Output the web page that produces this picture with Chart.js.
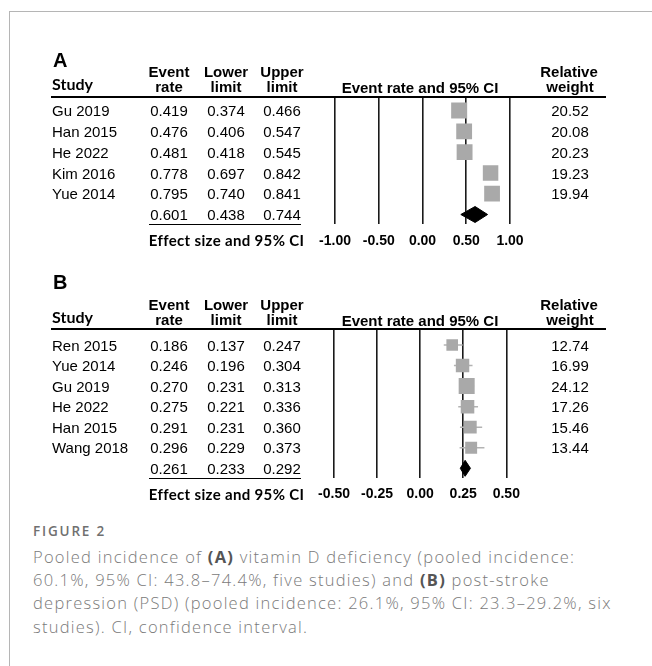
<!DOCTYPE html>
<html><head><meta charset="utf-8">
<script src="https://cdn.jsdelivr.net/npm/chart.js@4.4.1/dist/chart.umd.min.js"></script>
<style>
html,body{margin:0;padding:0;background:#fff;}
#page{position:relative;width:652px;height:666px;overflow:hidden;background:#fff;font-family:"Liberation Sans",Arial,sans-serif;color:#000;}
#frame{position:absolute;left:9px;top:11px;width:700px;height:700px;border-left:1px solid #b5b5b5;border-top:1px solid #b5b5b5;}
.t{position:absolute;left:0;top:0;white-space:nowrap;line-height:1;}
.cv{position:absolute;left:0;top:0;}
.hl{position:absolute;background:#000;}
.cap b{font-weight:700;color:#555;}
</style></head><body><div id="page"><div id="frame"></div>
<canvas id="cA" class="cv" width="652" height="520"></canvas>
<canvas id="cB" class="cv" width="652" height="520"></canvas>
</div>
<script>
// ---------- data ----------
const headers = ["Study", "Event rate", "Lower limit", "Upper limit", "Event rate and 95% CI", "Relative weight"];
const axisTitle = "Effect size and 95% CI";

const studiesA = ["Gu 2019", "Han 2015", "He 2022", "Kim 2016", "Yue 2014"];
const rateA   = [0.419, 0.476, 0.481, 0.778, 0.795];
const lowerA  = [0.374, 0.406, 0.418, 0.697, 0.740];
const upperA  = [0.466, 0.547, 0.545, 0.842, 0.841];
const weightA = [20.52, 20.08, 20.23, 19.23, 19.94];
const pooledA = [0.601, 0.438, 0.744]; // rate, lower, upper
const ticksA  = [-1.00, -0.50, 0.00, 0.50, 1.00];

const studiesB = ["Ren 2015", "Yue 2014", "Gu 2019", "He 2022", "Han 2015", "Wang 2018"];
const rateB   = [0.186, 0.246, 0.270, 0.275, 0.291, 0.296];
const lowerB  = [0.137, 0.196, 0.231, 0.221, 0.231, 0.229];
const upperB  = [0.247, 0.304, 0.313, 0.336, 0.360, 0.373];
const weightB = [12.74, 16.99, 24.12, 17.26, 15.46, 13.44];
const pooledB = [0.261, 0.233, 0.292];
const ticksB  = [-0.50, -0.25, 0.00, 0.25, 0.50];

const figLabel = "FIGURE 2";
const captionLines = [
  'Pooled incidence of <b>(A)</b> vitamin D deficiency (pooled incidence:',
  '60.1%, 95% CI: 43.8–74.4%, five studies) and <b>(B)</b> post-stroke',
  'depression (PSD) (pooled incidence: 26.1%, 95% CI: 23.3–29.2%, six',
  'studies). CI, confidence interval.'
];

// ---------- layout ----------
const page = document.getElementById('page');
const ARIAL = '"Liberation Sans", Arial, sans-serif';
const LATO = 'Lato, "Open Sans", sans-serif';
const OPEN = '"Open Sans", sans-serif';
const BASE = {arial: 0.8465, lato: 0.887, open: 0.888};

function put(html, x, base, o) {
  o = o || {};
  const fs = o.fs || 15;
  const d = document.createElement('div');
  d.className = 't' + (o.cls ? ' ' + o.cls : '');
  d.innerHTML = html;
  d.style.fontSize = fs + 'px';
  d.style.fontFamily = o.font || ARIAL;
  d.style.fontWeight = o.weight || (o.bold ? '700' : '400');
  if (o.color) d.style.color = o.color;
  d.style.top = (base - (o.asc || BASE.arial) * fs) + 'px';
  page.appendChild(d);
  if (o.width) {
    const w0 = d.getBoundingClientRect().width;
    const n = d.textContent.length;
    d.style.letterSpacing = ((o.width - w0) / n) + 'px';
  }
  if (o.spacing !== undefined) d.style.letterSpacing = o.spacing + 'px';
  const w = d.getBoundingClientRect().width;
  const align = o.align || 'left';
  d.style.left = (align === 'center' ? x - w / 2 : align === 'right' ? x - w : x) + 'px';
  return d;
}
function rule(x1, x2, y, h) {
  const d = document.createElement('div');
  d.className = 'hl';
  d.style.left = x1 + 'px'; d.style.width = (x2 - x1) + 'px';
  d.style.top = y + 'px'; d.style.height = h + 'px';
  page.appendChild(d);
}

function panel(P, label, studies, rate, lower, upper, weight, pooled, ticks, canvasId) {
  put(label, 53, P.letterBase, {fs: 20, bold: true});
  const h = headers;
  const l1 = P.head1, l2 = P.head2;
  put("Study", 52, P.studyBase, {fs: 16, font: LATO, bold: true, asc: BASE.lato, width: 41});
  [[h[1], 169], [h[2], 226], [h[3], 282]].forEach(([t, cx]) => {
    const parts = t.split(' ');
    put(parts[0], cx, l1, {fs: 15, bold: true, align: 'center'});
    put(parts[1], cx, l2, {fs: 15, bold: true, align: 'center'});
  });
  const rw = h[5].split(' ');
  put(rw[0], 569, l1, {fs: 15, bold: true, align: 'center'});
  put(rw[1], 570, l2, {fs: 15, bold: true, align: 'center'});
  put(h[4], 420, P.ciBase, {fs: 15, bold: true, align: 'center'});
  rule(50.7, 606, P.top - 1, 2);
  const rowY = i => P.row0 + P.step * i;
  const cb = 0.358 * 15;
  studies.forEach((s, i) => {
    const b = rowY(i) + cb;
    put(s, 52, b, {fs: 15});
    put(rate[i].toFixed(3), 169, b, {fs: 15, align: 'center'});
    put(lower[i].toFixed(3), 226, b, {fs: 15, align: 'center'});
    put(upper[i].toFixed(3), 282, b, {fs: 15, align: 'center'});
    put(weight[i].toFixed(2), 570, b, {fs: 15, align: 'center'});
  });
  const pb = rowY(studies.length) + cb;
  pooled.forEach((v, j) => put(v.toFixed(3), [169, 226, 282][j], pb, {fs: 15, align: 'center'}));
  rule(149.3, 300.7, P.bottom - 0.8, 1.5);
  put(axisTitle, 304.3, P.tickCenter + 0.358 * 15, {fs: 15, font: LATO, bold: true, asc: BASE.lato, width: 155, align: 'right'});

  const n = studies.length;
  const maxW = Math.max(...weight);
  const ds = [];
  ds.push({
    data: rate.map((v, i) => ({x: v, y: i})),
    pointStyle: 'rect',
    pointRadius: ctx => P.maxSide * Math.sqrt(weight[ctx.dataIndex] / maxW) / Math.SQRT2,
    backgroundColor: '#a9a9a9', borderWidth: 0, order: 0
  });
  for (let i = 0; i < n; i++) {
    ds.push({data: [{x: lower[i], y: i}, {x: upper[i], y: i}], showLine: true, pointRadius: 0,
      borderColor: '#b3b3b3', borderWidth: 1.5, order: 2});
  }
  const hh = P.diaHalf / P.step;
  ds.push({
    data: [{x: pooled[1], y: n}, {x: pooled[0], y: n - hh}, {x: pooled[2], y: n}, {x: pooled[0], y: n + hh}, {x: pooled[1], y: n}],
    showLine: true, pointRadius: 0, borderColor: '#000', borderWidth: 1, backgroundColor: '#000',
    fill: 'shape', tension: 0, order: 1
  });
  new Chart(document.getElementById(canvasId), {
    type: 'scatter',
    data: {datasets: ds},
    options: {
      responsive: false, animation: false, events: [],
      layout: {padding: {left: P.left, right: 652 - P.right, top: P.top, bottom: 0}},
      plugins: {legend: {display: false}, tooltip: {enabled: false}},
      scales: {
        x: {
          type: 'linear', min: ticks[0], max: ticks[ticks.length - 1],
          afterBuildTicks: s => { s.ticks = ticks.map(v => ({value: v})); },
          afterFit: s => { s.height = 520 - P.bottom; },
          grid: {color: '#1a1a1a', lineWidth: 1.6, drawTicks: false, drawOnChartArea: true},
          border: {display: false},
          ticks: {padding: P.tickCenter - P.bottom - 8.4, color: '#000', autoSkip: false, maxRotation: 0,
            font: {family: ARIAL, size: 14, weight: 'bold'}, callback: v => Number(v).toFixed(2)}
        },
        y: {type: 'linear', display: false, reverse: true,
          min: (P.top - P.row0) / P.step, max: (P.bottom - P.row0) / P.step}
      }
    }
  });
}

panel({letterBase: 67, head1: 76.5, head2: 91.5, studyBase: 90.5, ciBase: 92.5,
       top: 96.7, bottom: 224.3, left: 335, right: 510, row0: 110.5, step: 20.8,
       tickCenter: 241, maxSide: 16, diaHalf: 8},
      "A", studiesA, rateA, lowerA, upperA, weightA, pooledA, ticksA, 'cA');
panel({letterBase: 289, head1: 309.3, head2: 325, studyBase: 323.5, ciBase: 325.5,
       top: 329, bottom: 478.3, left: 334, right: 506.3, row0: 345, step: 20.55,
       tickCenter: 494.5, maxSide: 16, diaHalf: 8},
      "B", studiesB, rateB, lowerB, upperB, weightB, pooledB, ticksB, 'cB');

// caption
put(figLabel, 33, 537, {fs: 13.5, font: OPEN, weight: '600', asc: BASE.open, color: '#707070', width: 73});
const capBase = [563.3, 586.6, 610, 633.3];
const capFs = 16.5;
// one common letter-spacing, set so that the longest line ends where it does in the figure
const probe = put(captionLines[2], 33, capBase[2], {fs: capFs, font: OPEN, weight: '300', asc: BASE.open, color: '#7a7a7a', cls: 'cap'});
const pw = probe.getBoundingClientRect().width;
const capSpacing = (611.7 - 33 - pw) / probe.textContent.length;
probe.remove();
captionLines.forEach((t, i) => put(t, 33, capBase[i], {fs: capFs, font: OPEN, weight: '300', asc: BASE.open, color: '#7a7a7a', cls: 'cap', spacing: capSpacing}));
</script>
</body></html>
